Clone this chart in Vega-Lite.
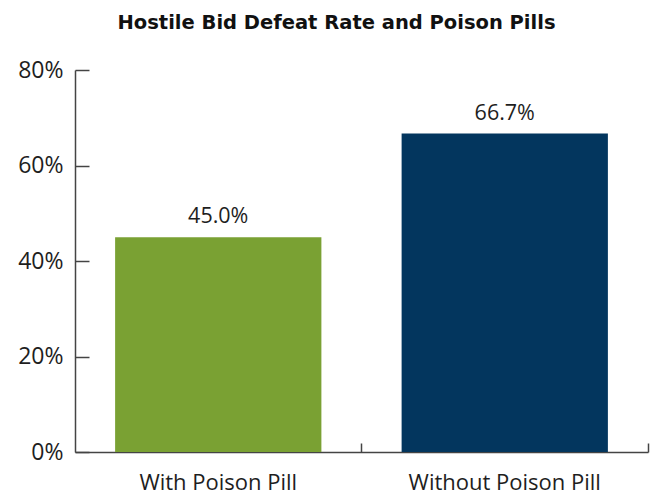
{
  "$schema": "https://vega.github.io/schema/vega-lite/v6.json",
  "autosize": {"type": "none"},
  "width": 573,
  "height": 382,
  "padding": {"left": 75, "top": 70, "right": 18, "bottom": 43},
  "background": "white",
  "title": {
    "text": "Hostile Bid Defeat Rate and Poison Pills",
    "font": "DejaVu Sans",
    "fontSize": 19.5,
    "fontWeight": "bold",
    "color": "#111111",
    "anchor": "middle",
    "dx": -25,
    "offset": 26
  },
  "data": {
    "values": [
      {"group": "With Poison Pill", "rate": 0.45},
      {"group": "Without Poison Pill", "rate": 0.667}
    ]
  },
  "config": {
    "view": {"stroke": null},
    "axis": {
      "labelFont": "Open Sans",
      "labelColor": "#1e1e1e",
      "domainColor": "#444444",
      "tickColor": "#444444",
      "domainWidth": 1.5,
      "tickWidth": 1.5,
      "grid": false,
      "title": null
    }
  },
  "encoding": {
    "x": {
      "field": "group",
      "type": "nominal",
      "sort": null,
      "scale": {"paddingInner": 0, "paddingOuter": 0},
      "axis": {
        "labelAngle": 0,
        "labelFontSize": 22,
        "labelPadding": 29,
        "labelLimit": 0,
        "tickSize": -9,
        "bandPosition": 1
      }
    },
    "y": {
      "field": "rate",
      "type": "quantitative",
      "scale": {"domain": [0, 0.8]},
      "axis": {
        "values": [0, 0.2, 0.4, 0.6, 0.8],
        "format": ".0%",
        "labelFontSize": 23,
        "labelPadding": 26,
        "tickSize": -14
      }
    }
  },
  "layer": [
    {
      "mark": {"type": "bar", "width": {"band": 0.72}},
      "encoding": {
        "color": {
          "field": "group",
          "type": "nominal",
          "scale": {"range": ["#7aa133", "#03365e"]},
          "legend": null
        }
      }
    },
    {
      "mark": {
        "type": "text",
        "baseline": "alphabetic",
        "dy": -14,
        "font": "Open Sans",
        "fontSize": 21.5,
        "color": "#1e1e1e"
      },
      "encoding": {
        "text": {"field": "rate", "type": "quantitative", "format": ".1%"}
      }
    }
  ]
}
